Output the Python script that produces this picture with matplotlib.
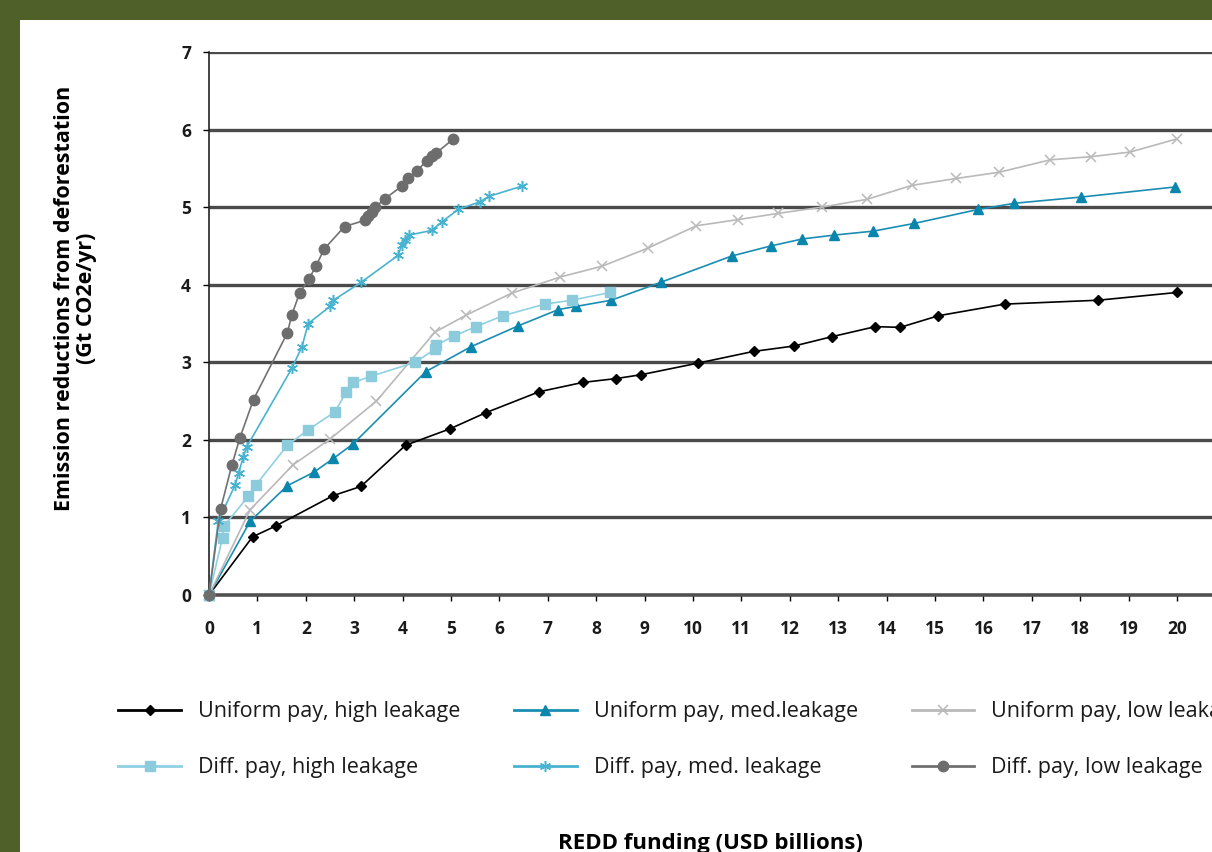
import matplotlib
matplotlib.use("Agg")
import matplotlib.pyplot as plt
from matplotlib.patches import Rectangle

# REDD funding (USD billions) and emission reductions (Gt CO2e/yr) per scenario
uh_x = [0, 0.90, 1.38, 2.56, 3.14, 4.06, 4.97, 5.72, 6.82, 7.72, 8.41, 8.93,
        10.11, 11.25, 12.09, 12.87, 13.77, 14.28, 15.07, 16.44, 18.37, 20.0]
uh_y = [0, 0.75, 0.89, 1.28, 1.40, 1.93, 2.14, 2.35, 2.62, 2.74, 2.79, 2.84,
        2.99, 3.14, 3.21, 3.33, 3.46, 3.45, 3.60, 3.75, 3.80, 3.90]

um_x = [0, 0.85, 1.62, 2.16, 2.57, 2.98, 4.48, 5.41, 6.39, 7.22, 7.58, 8.31,
        9.33, 10.80, 11.61, 12.26, 12.92, 13.72, 14.57, 15.89, 16.64, 18.02, 19.96]
um_y = [0, 0.95, 1.41, 1.58, 1.76, 1.95, 2.88, 3.20, 3.47, 3.68, 3.72, 3.80,
        4.03, 4.37, 4.50, 4.59, 4.64, 4.69, 4.79, 4.97, 5.05, 5.13, 5.26]

ul_x = [0, 0.85, 1.74, 2.50, 3.46, 4.67, 5.32, 6.25, 7.26, 8.13, 9.06, 10.07,
        10.94, 11.76, 12.66, 13.59, 14.52, 15.44, 16.33, 17.38, 18.22, 19.03, 20.0]
ul_y = [0, 1.10, 1.68, 2.01, 2.50, 3.39, 3.61, 3.89, 4.10, 4.24, 4.47, 4.76,
        4.84, 4.92, 5.00, 5.10, 5.28, 5.37, 5.45, 5.61, 5.65, 5.71, 5.88]

dh_x = [0, 0.28, 0.31, 0.81, 0.97, 1.62, 2.05, 2.60, 2.84, 2.98, 3.35, 4.26,
        4.67, 4.70, 5.06, 5.52, 6.07, 6.94, 7.49, 8.29]
dh_y = [0, 0.74, 0.89, 1.27, 1.42, 1.93, 2.13, 2.36, 2.62, 2.74, 2.82, 3.00,
        3.17, 3.22, 3.34, 3.46, 3.60, 3.75, 3.80, 3.90]

dm_x = [0, 0.19, 0.54, 0.61, 0.71, 0.78, 1.71, 1.92, 2.05, 2.50, 2.57, 3.14,
        3.91, 3.98, 4.05, 4.14, 4.60, 4.81, 5.15, 5.60, 5.79, 6.46]
dm_y = [0, 0.95, 1.42, 1.57, 1.78, 1.91, 2.92, 3.20, 3.50, 3.72, 3.80, 4.03,
        4.38, 4.51, 4.57, 4.64, 4.70, 4.81, 4.97, 5.07, 5.14, 5.27]

dl_x = [0, 0.24, 0.47, 0.64, 0.92, 1.62, 1.71, 1.87, 2.07, 2.21, 2.38, 2.80,
        3.22, 3.29, 3.36, 3.43, 3.64, 3.98, 4.12, 4.30, 4.50, 4.60, 4.70, 5.05]
dl_y = [0, 1.11, 1.67, 2.03, 2.52, 3.38, 3.61, 3.89, 4.08, 4.24, 4.46, 4.75,
        4.83, 4.89, 4.94, 5.00, 5.11, 5.27, 5.37, 5.47, 5.60, 5.66, 5.70, 5.88]

labels = ["Uniform pay, high leakage", "Uniform pay, med.leakage",
          "Uniform pay, low leakage", "Diff. pay, high leakage",
          "Diff. pay, med. leakage", "Diff. pay, low leakage"]

x_ticks = list(range(0, 21))
y_ticks = list(range(0, 8))

FAMILY = ["Open Sans", "DejaVu Sans"]

W, H = 1212, 852
fig = plt.figure(figsize=(W / 100, H / 100), dpi=100)
fig.patch.set_facecolor("#4f6028")
fig.add_artist(Rectangle((20 / W, 0), 1 - 20 / W, 1 - 20 / H,
                         transform=fig.transFigure, facecolor="white",
                         edgecolor="none", zorder=-10))

px_per_unit = (1177 - 209) / 20.0
x_right = (W - 209) / px_per_unit
ax = fig.add_axes([209 / W, 1 - 595 / H, (W - 209) / W, (595 - 52) / H])
ax.set_facecolor("none")
ax.set_xlim(0, x_right)
ax.set_ylim(0, 7)

tick_font = dict(family=FAMILY, weight="bold", size=12.5)
ax.set_xticks(x_ticks)
ax.set_xticklabels([str(t) for t in x_ticks], **tick_font)
ax.set_yticks(y_ticks)
ax.set_yticklabels([str(t) for t in y_ticks], **tick_font)
ax.tick_params(axis="both", direction="out", length=4, width=1, colors="black")
ax.tick_params(axis="y", pad=9)
ax.tick_params(axis="x", pad=14)
for t in ax.get_xticklabels() + ax.get_yticklabels():
    t.set_color("#1a1a1a")

for s in ("top", "right"):
    ax.spines[s].set_visible(False)
ax.spines["left"].set_linewidth(1.2)
ax.spines["left"].set_color("#222222")
ax.spines["bottom"].set_linewidth(2.6)
ax.spines["bottom"].set_color("#505050")

for yv in y_ticks[1:]:
    ax.axhline(yv, color="#4a4a4a", lw=2.4, zorder=1)

common = dict(lw=1.2, zorder=3, clip_on=False)
h_uh, = ax.plot(uh_x, uh_y, color="black", marker="D", ms=5.5,
                mfc="black", mec="black", label=labels[0], **common)
h_um, = ax.plot(um_x, um_y, color="#1a8db3", marker="^", ms=7.5,
                mfc="#0a86ad", mec="#0a86ad", label=labels[1], **common)
h_ul, = ax.plot(ul_x, ul_y, color="#b9b9b9", marker="x", ms=7, mew=1.1,
                label=labels[2], **common)
h_dh, = ax.plot(dh_x, dh_y, color="#8fd0e2", marker="s", ms=7,
                mfc="#8ccbdc", mec="#8ccbdc", label=labels[3], **common)
h_dm, = ax.plot(dm_x, dm_y, color="#48b3d0", marker=(6, 2, 0), ms=8, mew=1.1,
                mec="#48b3d0", label=labels[4], **common)
h_dl, = ax.plot(dl_x, dl_y, color="#717172", marker="o", ms=7.5,
                mfc="#6d6d6e", mec="#6d6d6e", label=labels[5], **common)

ax.set_ylabel("Emission reductions from deforestation\n(Gt CO2e/yr)",
              family=FAMILY, weight="bold", size=15.5, linespacing=1.05)
ax.yaxis.set_label_coords((97 - 209) / (W - 209), (595 - 298) / (595 - 52))

handles = [h_uh, h_dh, h_um, h_dm, h_ul, h_dl]
leg = fig.legend(handles=handles, labels=[h.get_label() for h in handles],
                 loc="upper left", bbox_to_anchor=(99 / W, 1 - 682 / H), ncol=3,
                 frameon=False, handlelength=2.9, handletextpad=0.8,
                 columnspacing=2.5, labelspacing=1.62,
                 prop=dict(family=FAMILY, size=15.5))
for ln in leg.get_lines():
    ln.set_linewidth(2.0)
for txt in leg.get_texts():
    txt.set_color("#1a1a1a")

fig.text(710 / W, 1 - 833 / H, "REDD funding (USD billions)",
         family=FAMILY, weight="bold", size=16,
         ha="center", va="top")

fig.savefig("out.png", dpi=100, facecolor=fig.get_facecolor())
